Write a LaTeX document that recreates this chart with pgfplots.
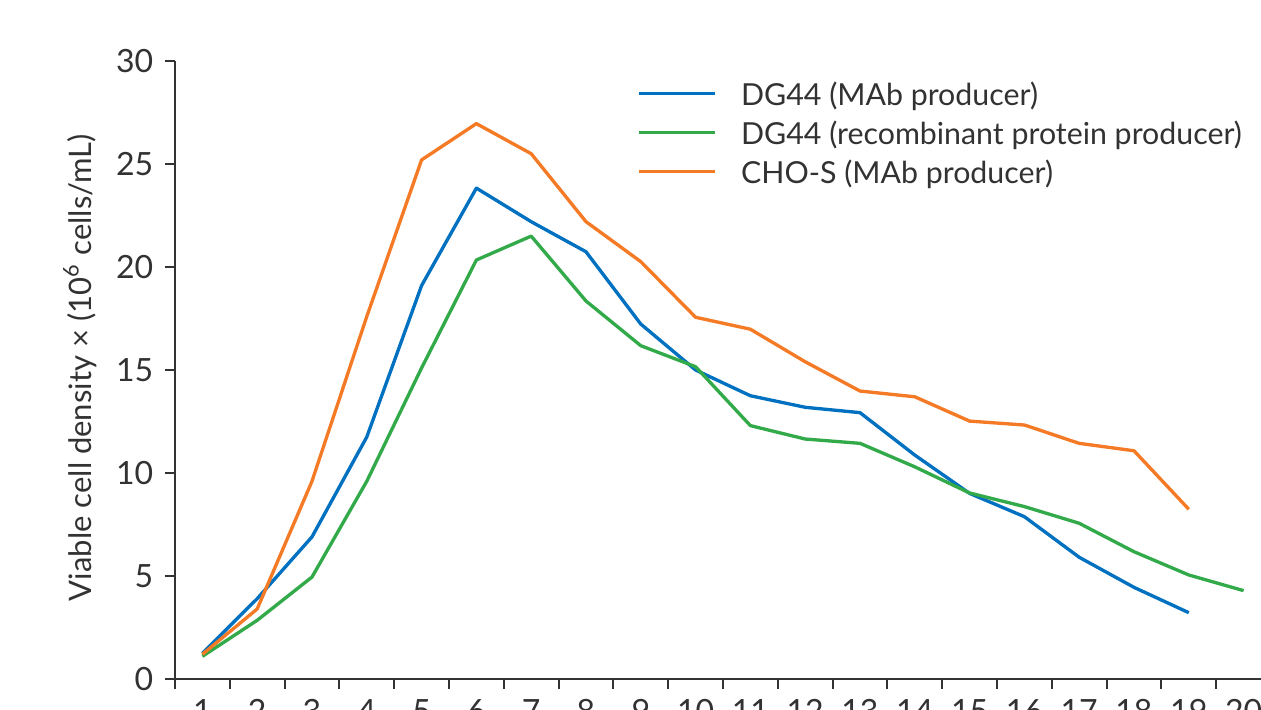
\documentclass[border=0pt]{standalone}
\usepackage{fontspec}
\setmainfont{Lato}
\usepackage{pgfplots}
\pgfplotsset{compat=1.18}
\definecolor{cblue}{RGB}{0,112,192}
\definecolor{cgreen}{RGB}{51,170,73}
\definecolor{corange}{RGB}{245,122,38}
\definecolor{axgray}{RGB}{51,51,51}
\definecolor{txtgray}{RGB}{50,50,50}
\begin{document}
\begin{tikzpicture}
\begin{axis}[
  at={(0pt,0pt)}, anchor=south west,
  scale only axis,
  width=328.8pt, height=185.4pt,
  xmin=0.5, xmax=20.5, ymin=0, ymax=30,
  axis lines=left,
  axis line style={-, axgray, line width=0.6pt},
  clip=false,
  xtick={1,...,20},
  ytick={0,5,...,30},
  tick style={axgray, line width=0.6pt},
  tick align=outside,
  major tick length=3pt,
  x tick style={draw=none},
  extra x ticks={0.5,1.5,...,19.5},
  extra x tick labels={},
  extra x tick style={x tick style={draw=axgray}, major tick length=3pt},
  /pgf/number format/assume math mode=true,
  tick label style={font=\fontsize{9.6pt}{11pt}\selectfont, text=txtgray},
  xticklabel style={yshift=0.3pt},
  ylabel={Viable cell density × (10\textsuperscript{6} cells/mL)},
  ylabel style={at={(axis description cs:-0.0867,0.504)}, anchor=center, font=\fontsize{9.3pt}{11pt}\selectfont, text=txtgray},
  legend style={at={(rel axis cs:0.4216,0.9665)}, anchor=north west, draw=none, fill=none,
     inner sep=0pt, row sep=2.7pt, column sep=7.2pt,
     font=\fontsize{9.1pt}{11pt}\selectfont, text=txtgray,
     nodes={inner sep=0pt, text height=7pt, text depth=2pt}},
  legend cell align=left,
  legend image code/.code={\draw[#1] (0pt,1.2pt) -- (22.8pt,1.2pt);},
  every axis plot/.append style={line width=1.0pt, line join=round},
]
\addplot[cblue] coordinates {
(1,1.25) (2,3.9) (3,6.9) (4,11.75) (5,19.1) (6,23.83) (7,22.2) (8,20.74) (9,17.23) (10,15.0)
(11,13.75) (12,13.19) (13,12.93) (14,10.87) (15,9.01) (16,7.88) (17,5.91) (18,4.45) (19,3.22)};
\addlegendentry{DG44 (MAb producer)}
\addplot[cgreen] coordinates {
(1,1.1) (2,2.85) (3,4.95) (4,9.6) (5,15.1) (6,20.34) (7,21.5) (8,18.35) (9,16.18) (10,15.16)
(11,12.3) (12,11.65) (13,11.44) (14,10.3) (15,9.03) (16,8.37) (17,7.56) (18,6.18) (19,5.05) (20,4.29)};
\addlegendentry{DG44 (recombinant protein producer)}
\addplot[corange] coordinates {
(1,1.2) (2,3.4) (3,9.6) (4,17.6) (5,25.2) (6,26.96) (7,25.5) (8,22.2) (9,20.26) (10,17.56)
(11,16.98) (12,15.4) (13,13.98) (14,13.7) (15,12.52) (16,12.33) (17,11.44) (18,11.08) (19,8.24)};
\addlegendentry{CHO-S (MAb producer)}
\end{axis}
\pgfresetboundingbox
\path[use as bounding box] (-52.5pt,-9pt) rectangle (325.8pt,203.7pt);
\end{tikzpicture}
\end{document}
